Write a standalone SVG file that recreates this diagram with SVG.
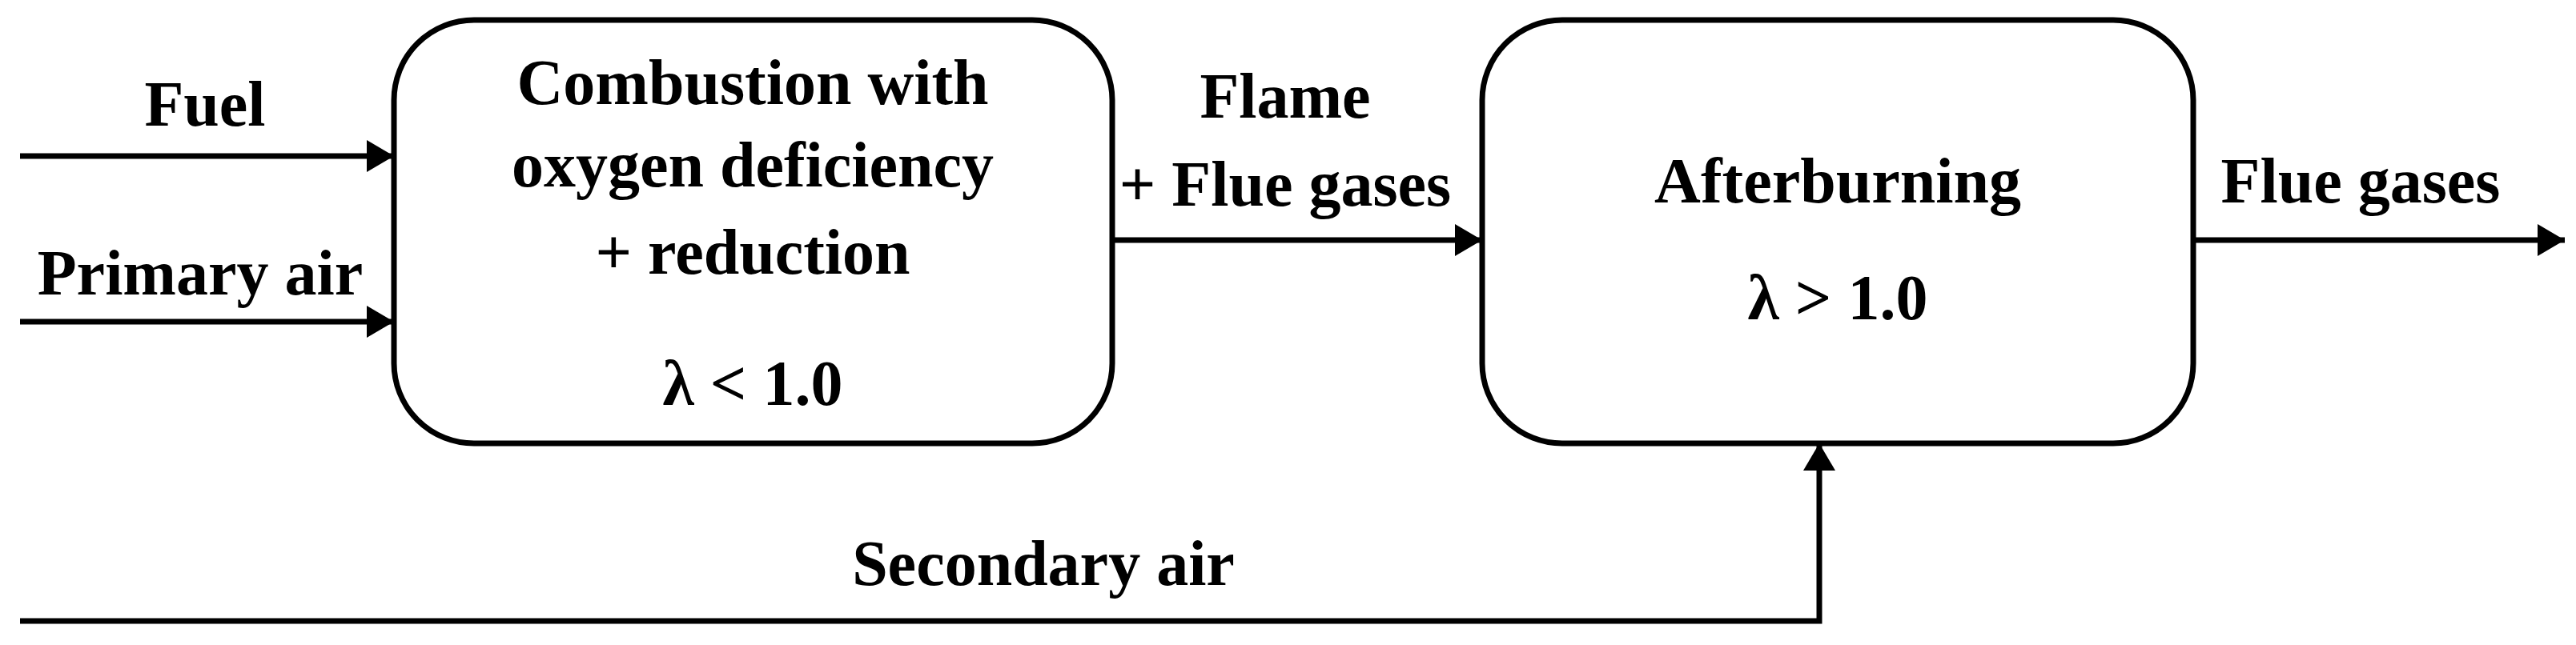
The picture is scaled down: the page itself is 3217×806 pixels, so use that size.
<svg xmlns="http://www.w3.org/2000/svg" width="3217" height="806" viewBox="0 0 3217 806">
<style>
text{font-family:"Liberation Serif","DejaVu Serif",serif;font-weight:bold;font-size:80px;text-anchor:middle;fill:#000}
.box{fill:#fff;stroke:#000;stroke-width:7}
.ln{fill:none;stroke:#000;stroke-width:7}
</style>
<defs><marker id="a" markerUnits="userSpaceOnUse" markerWidth="36" markerHeight="40" refX="34" refY="20" orient="auto"><path d="M0,0 L34,20 L0,40 Z" fill="#000"/></marker></defs>
<g id="n1"><rect class="box" x="492" y="25" width="897" height="529" rx="100"/>
<text x="940" y="130">Combustion with</text><text x="940" y="233">oxygen deficiency</text><text x="940" y="342">+ reduction</text><text x="940" y="506">λ &lt; 1.0</text></g>
<g id="n2"><rect class="box" x="1851" y="25" width="888" height="529" rx="100"/>
<text x="2295" y="253">Afterburning</text><text x="2295" y="399">λ &gt; 1.0</text></g>
<g id="connectors">
<path class="ln" d="M25,195 H492" marker-end="url(#a)"/>
<path class="ln" d="M25,402 H492" marker-end="url(#a)"/>
<path class="ln" d="M1389,300 H1851" marker-end="url(#a)"/>
<path class="ln" d="M2739,300 H3203" marker-end="url(#a)"/>
<path class="ln" d="M25,776 H2272 V554" marker-end="url(#a)"/>
</g>
<g id="labels">
<text x="256" y="157">Fuel</text><text x="250" y="368">Primary air</text>
<text x="1605" y="147">Flame</text><text x="1605" y="257">+ Flue gases</text>
<text x="2948" y="253">Flue gases</text><text x="1303" y="731">Secondary air</text>
</g>
</svg>
